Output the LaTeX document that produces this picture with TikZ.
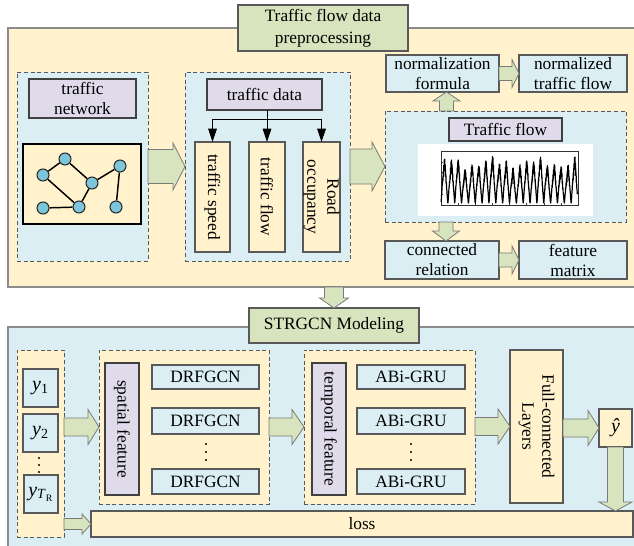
\documentclass[tikz,border=0pt]{standalone}
\usepackage{fontspec}
\setmainfont{Liberation Serif}
\usetikzlibrary{calc,arrows.meta}

\definecolor{paneor}{HTML}{FFF2CC}
\definecolor{paneblue}{HTML}{DAEEF3}
\definecolor{lav}{HTML}{E0DBEA}
\definecolor{sage}{HTML}{D7E4BD}
\definecolor{dot}{HTML}{7DC5DA}
\definecolor{edge}{HTML}{595959}
\definecolor{frame}{HTML}{8C8C8C}

\newcommand\mainfs{\fontsize{13}{15}\selectfont}
\newcommand\titlefs{\fontsize{13}{16.5}\selectfont}
\newcommand\yfs{\fontsize{15}{16}\selectfont}

% horizontal block arrow: start, tip, shaft half-height, head half-height, head length (px)
\newcommand\fatright[5]{%
  \draw[fatarrow] let \p1=#1, \p2=#2 in
    (\x1,{\y1+#3*0.75pt}) -- ({\x2-#5*0.75pt},{\y1+#3*0.75pt}) --
    ({\x2-#5*0.75pt},{\y1+#4*0.75pt}) -- (\x2,\y1) --
    ({\x2-#5*0.75pt},{\y1-#4*0.75pt}) -- ({\x2-#5*0.75pt},{\y1-#3*0.75pt}) --
    (\x1,{\y1-#3*0.75pt}) -- cycle;}
% vertical block arrow pointing down the page
\newcommand\fatdown[5]{%
  \draw[fatarrow] let \p1=#1, \p2=#2 in
    ({\x1-#3*0.75pt},\y1) -- ({\x1-#3*0.75pt},{\y2+#5*0.75pt}) --
    ({\x1-#4*0.75pt},{\y2+#5*0.75pt}) -- (\x1,\y2) --
    ({\x1+#4*0.75pt},{\y2+#5*0.75pt}) -- ({\x1+#3*0.75pt},{\y2+#5*0.75pt}) --
    ({\x1+#3*0.75pt},\y1) -- cycle;}
% vertical block arrow pointing up the page
\newcommand\fatup[5]{%
  \draw[fatarrow] let \p1=#1, \p2=#2 in
    ({\x1-#3*0.75pt},\y1) -- ({\x1-#3*0.75pt},{\y2-#5*0.75pt}) --
    ({\x1-#4*0.75pt},{\y2-#5*0.75pt}) -- (\x1,\y2) --
    ({\x1+#4*0.75pt},{\y2-#5*0.75pt}) -- ({\x1+#3*0.75pt},{\y2-#5*0.75pt}) --
    ({\x1+#3*0.75pt},\y1) -- cycle;}

\begin{document}
\begin{tikzpicture}[x=0.75pt,y=-0.75pt,
  spanbox/.style n args={4}{at={({(#1+#3)/2},{(#2+#4)/2})},
    minimum width={(#3-#1)*0.75pt}, minimum height={(#4-#2)*0.75pt}},
  base/.style={inner sep=0pt, outer sep=0pt, align=center, font=\mainfs},
  panel/.style={base, draw=frame, line width=0.8pt},
  titlebox/.style={base, fill=sage, draw=edge, line width=0.8pt, font=\titlefs},
  dashbox/.style={base, draw=edge, dashed, dash pattern=on 3pt off 2pt, line width=0.7pt},
  bluebox/.style={base, fill=paneblue, draw=edge, line width=0.8pt},
  orbox/.style={base, fill=paneor, draw=edge, line width=0.8pt},
  lavbox/.style={base, fill=lav, draw=black!75, line width=0.8pt},
  vtext/.style={rotate=-90, font=\mainfs, align=center, inner sep=0pt},
  gnode/.style={circle, fill=dot, draw=black!85, line width=0.8pt, minimum size=9pt, inner sep=0pt},
  gedge/.style={line width=1.1pt, black},
  fatarrow/.style={fill=sage, draw=edge!80, line width=0.6pt, line join=miter},
  split/.style={line width=0.6pt, black},
  splitarr/.style={split, -{Triangle[length=10pt,width=6.5pt]}},
  declare function={
    osc(\c)=sin(360*(\c-floor(\c)));
    dayc(\t)=0.5-0.5*osc(\t+0.25);
    amp(\t)=0.84+0.09*osc(\t/6.5+0.1)+0.07*osc(0.41*\t+0.3);
    sig(\t)=max(0.02,min(0.97,0.03+amp(\t)*(0.8*pow(dayc(\t)+0.001,0.6)
      +0.09*osc(2*\t+0.14)*dayc(\t))+0.06*osc(13.1*\t)*dayc(\t)+0.04*osc(29.3*\t+0.2)*dayc(\t)));}
]
\clip (0,0) rectangle (634,545);

% ---------- preprocessing panel ----------
\node[panel, fill=paneor, spanbox={8}{28}{650}{287}] (prep) {};
\node[titlebox, spanbox={238}{5}{408}{51}] (prepTitle) {Traffic flow data\\preprocessing};

% traffic network
\node[dashbox, fill=paneblue, spanbox={17}{72}{148}{261}] (netArea) {};
\node[lavbox, spanbox={29}{79}{136}{118}] (netLabel) {traffic\\network};
\node[orbox, draw=black, line width=1.2pt, spanbox={23}{144}{141}{224}] (graph) {};
\node[gnode] (g1) at (43,175) {};
\node[gnode] (g2) at (65,159) {};
\node[gnode] (g3) at (92,183) {};
\node[gnode] (g4) at (120,166) {};
\node[gnode] (g5) at (43,208) {};
\node[gnode] (g6) at (79,207) {};
\node[gnode] (g7) at (116,207) {};
\draw[gedge] (g1) -- (g2);
\draw[gedge] (g2) -- (g3);
\draw[gedge] (g1) -- (g6);
\draw[gedge] (g5) -- (g6);
\draw[gedge] (g6) -- (g3);
\draw[gedge] (g3) -- (g4);
\draw[gedge] (g4) -- (g7);

% traffic data
\node[dashbox, fill=paneblue, spanbox={185}{72}{350}{261}] (dataArea) {};
\node[lavbox, spanbox={207}{79}{322}{110}] (dataLabel) {traffic data};
\node[orbox, spanbox={195}{142}{230}{252}] (spd) {};
\node[orbox, spanbox={249}{142}{285}{252}] (flw) {};
\node[orbox, spanbox={303}{142}{340}{252}] (occ) {};
\node[vtext] (spdT) at (spd) {traffic speed};
\node[vtext] (flwT) at (flw) {traffic flow};
\node[vtext] (occT) at (occ) {Road\\occupancy};
\coordinate (fork) at ($(flw.north)+(0,-23)$);
\draw[split] (dataLabel.south -| fork) -- (fork);
\draw[splitarr] (fork) -| (spd.north);
\draw[splitarr] (fork) -| (occ.north);
\draw[splitarr] (fork) -- (flw.north);

% traffic flow series
\node[dashbox, fill=paneblue, spanbox={385}{111}{626}{222}] (flowArea) {};
\node[lavbox, spanbox={449}{118}{562}{141}] (flowLabel) {Traffic flow};
\node[base, fill=white, spanbox={418}{144}{593}{216}] (chart) {};
\draw[line width=0.35pt, black!80] (441,151) rectangle (578,205);
\foreach \k in {0,...,8}{
  \draw[line width=0.3pt, black!80] ({441+\k*137/8},205) -- ({441+\k*137/8},203);}
\foreach \k in {0,...,5}{
  \draw[line width=0.3pt, black!80] (441,{205-\k*54/5}) -- (443,{205-\k*54/5});}
\draw[line width=0.9pt, black, line join=round]
  plot[domain=0.02:19.9, samples=2000] ({441+6.85*\x},{205-50*sig(\x)});

\node[bluebox, spanbox={386}{55}{499}{92}] (norm) {normalization\\formula};
\node[bluebox, spanbox={519}{55}{627}{92}] (normd) {normalized\\traffic flow};
\node[bluebox, spanbox={385}{241}{499}{279}] (conn) {connected\\relation};
\node[bluebox, spanbox={519}{241}{627}{279}] (feat) {feature\\matrix};

% ---------- modelling panel ----------
\node[panel, fill=paneblue, spanbox={8}{327}{650}{560}] (model) {};
\node[titlebox, spanbox={249}{308}{419}{343}] (modTitle) {STRGCN Modeling};

% inputs
\node[dashbox, fill=paneor, spanbox={17}{350}{64}{537}] (ycol) {};
\node[bluebox, font=\yfs, spanbox={23}{369}{58}{407}] (y1) {\textit{y}\textsubscript{1}};
\node[bluebox, font=\yfs, spanbox={23}{414}{58}{452}] (y2) {\textit{y}\textsubscript{2}};
\node[bluebox, font=\yfs, spanbox={24}{475}{58}{513}] (yT) {\textit{y}\textsubscript{\textit{T}\textsubscript{R}}};
\foreach \yy in {458,465,472}{\fill (39,\yy) circle (1.1);}

% spatial block
\node[dashbox, fill=paneor, spanbox={99}{350}{269}{504}] (spArea) {};
\node[lavbox, spanbox={105}{363}{139}{495}] (spLabel) {};
\node[vtext] (spLabelT) at (spLabel) {spatial feature};
\node[bluebox, spanbox={152}{365}{259}{389}] (d1) {DRFGCN};
\node[bluebox, spanbox={152}{408}{259}{434}] (d2) {DRFGCN};
\node[bluebox, spanbox={152}{469}{259}{494}] (d3) {DRFGCN};
\foreach \yy in {444,452,460}{\fill (206,\yy) circle (1.1);}

% temporal block
\node[dashbox, fill=paneor, spanbox={304}{350}{475}{504}] (tpArea) {};
\node[lavbox, spanbox={312}{363}{346}{495}] (tpLabel) {};
\node[vtext] (tpLabelT) at (tpLabel) {temporal feature};
\node[bluebox, spanbox={357}{365}{465}{389}] (a1) {ABi-GRU};
\node[bluebox, spanbox={357}{408}{465}{434}] (a2) {ABi-GRU};
\node[bluebox, spanbox={357}{469}{465}{494}] (a3) {ABi-GRU};
\foreach \yy in {444,452,460}{\fill (411,\yy) circle (1.1);}

% output
\node[orbox, spanbox={510}{350}{563}{503}] (fc) {};
\node[vtext] (fcT) at (fc) {Full-connected\\Layers};
\node[orbox, font=\yfs, spanbox={599}{409}{632}{447}] (yhat) {\textit{ŷ}};
\node[orbox, spanbox={91}{511}{633}{537}] (loss) {loss};

% ---------- block arrows ----------
\fatright{(netArea.east)}{(dataArea.west)}{17}{23.5}{12}
\fatright{(dataArea.east)}{(flowArea.west)}{17.5}{24.5}{13}
\fatright{(norm.east)}{(normd.west)}{7}{14}{7}
\fatright{(conn.east)}{(feat.west)}{7}{14}{7}
\fatup{($(flowArea.north -| norm.south)+(4,0)$)}{($(norm.south)+(4,0)$)}{7}{13.5}{9}
\fatdown{($(flowArea.south -| conn.north)+(4,0)$)}{($(conn.north)+(4,0)$)}{7}{13.5}{10}
\fatdown{(prep.south -| modTitle.north)}{(modTitle.north)}{9.5}{14.5}{10}
\fatright{(ycol.east |- spArea.west)}{(spArea.west)}{9}{17.5}{11}
\fatright{(spArea.east)}{(tpArea.west)}{9}{17.5}{12}
\fatright{(tpArea.east |- fc.west)}{(fc.west)}{9}{17.5}{12}
\fatright{(fc.east |- yhat.west)}{(yhat.west)}{9}{17.5}{11}
\fatright{(ycol.east |- loss.west)}{(loss.west)}{5.5}{10}{9}
\fatdown{(yhat.south)}{(yhat.south |- loss.north)}{8}{16.5}{9}
\end{tikzpicture}
\end{document}
